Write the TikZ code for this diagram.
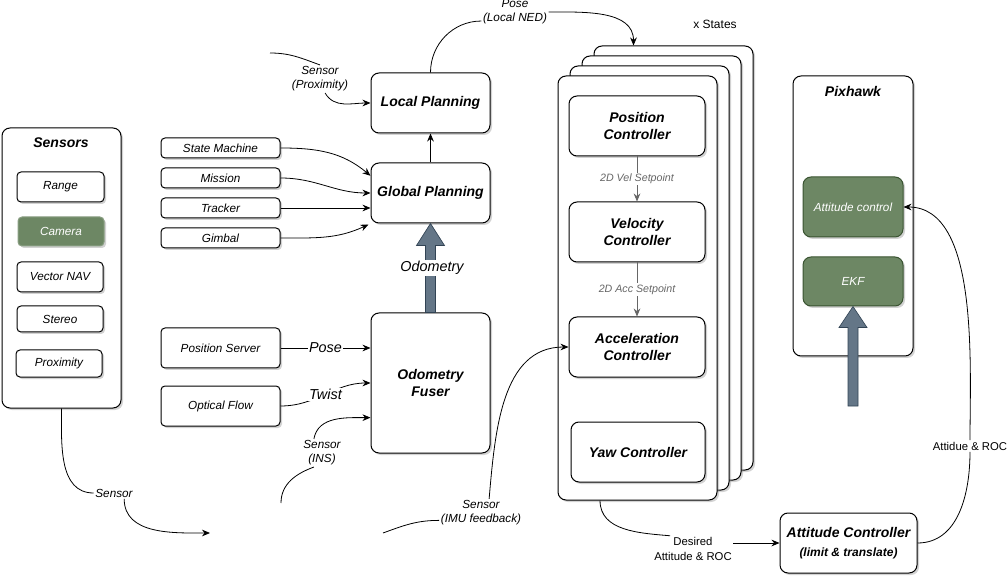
\documentclass[tikz,border=0pt]{standalone}
\usepackage{fontspec}
\setmainfont{Liberation Sans}
\usetikzlibrary{arrows.meta,shadows,calc}

\definecolor{boxgreen}{HTML}{6D8764}
\definecolor{greenline}{HTML}{3A5431}
\definecolor{fatblue}{HTML}{647687}
\definecolor{fatline}{HTML}{314354}

\begin{document}
\begin{tikzpicture}[x=0.75pt, y=-0.75pt, line width=0.6pt,
  >={Stealth[length=6pt,width=5pt]},
  wh/.style 2 args={minimum width=#1*0.75pt, minimum height=#2*0.75pt},
  box/.style={draw, fill=white, line width=0.75pt, rounded corners=3pt, align=center, inner sep=1pt,
    font=\itshape\fontsize{8.8}{10.5}\selectfont,
    drop shadow={shadow xshift=1.5pt, shadow yshift=-1.5pt, opacity=0.35}},
  bigbox/.style={box, rounded corners=6pt, font=\bfseries\itshape\fontsize{10.5}{13}\selectfont},
  greenbox/.style={box, fill=boxgreen, draw=greenline, text=white},
  panel/.style={box, rounded corners=6pt, wh={159}{424}},
  title/.style={font=\bfseries\itshape\fontsize{10.5}{13}\selectfont},
  lbl/.style={fill=white, inner sep=1pt, align=center, font=\itshape\fontsize{8.8}{10.5}\selectfont},
  biglbl/.style={lbl, font=\itshape\fontsize{10.8}{13}\selectfont},
  setlbl/.style={lbl, font=\itshape\fontsize{8}{9.5}\selectfont},
  fatarrow/.style={fill=fatblue, draw=fatline, line width=0.5pt},
]
\useasboundingbox (0,0) rectangle (1007,577);

% sensors
\node[box, rounded corners=6pt, wh={119}{280}] (sensors) at (61.5,268) {};
\node[title] (senstitle) at (61,143) {Sensors};
\node[box, wh={87}{30}] (range) at (60.5,187) {Range};
\node[greenbox, draw=boxgreen!80!white, wh={86}{29}] (camera) at (61,231.5) {Camera};
\node[box, wh={86}{30}] (vnav) at (60,277) {Vector NAV};
\node[box, wh={86}{26}] (stereo) at (60,319) {Stereo};
\node[box, wh={86}{27}] (proxim) at (59,363.5) {Proximity};

% planning inputs
\node[box, wh={119}{20}] (statem) at (220.5,148) {State Machine};
\node[box, wh={119}{20}] (mission) at (220.5,178) {Mission};
\node[box, wh={119}{20}] (tracker) at (220.5,208) {Tracker};
\node[box, wh={119}{20}] (gimbal) at (220.5,238) {Gimbal};
\node[box, wh={119}{40}] (possrv) at (220.5,348) {Position Server};
\node[box, wh={119}{40}] (optflow) at (220.5,406) {Optical Flow};

% planning
\node[bigbox, wh={119}{60}] (local) at (430.5,103) {Local Planning};
\node[bigbox, wh={119}{60}] (global) at (430.5,193) {Global Planning};
\node[bigbox, wh={119}{140}] (odom) at (430.5,383) {Odometry\\Fuser};

% controller stack
\node[panel] (stackd) at (673.5,258) {};
\node[panel] (stackc) at (661.5,268) {};
\node[panel] (stackb) at (649.5,278) {};
\node[panel] (stack) at (637.5,288) {};
\node[font=\fontsize{9}{11}\selectfont] (xstates) at (715,24) {x States};
\node[bigbox, wh={136}{60}] (posctl) at (637,126) {Position\\Controller};
\node[bigbox, wh={136}{60}] (velctl) at (637,232) {Velocity\\Controller};
\node[bigbox, wh={136}{60}] (accctl) at (637,347) {Acceleration\\Controller};
\node[bigbox, wh={134}{60}] (yawctl) at (638,452) {Yaw Controller};

% pixhawk
\node[box, rounded corners=6pt, wh={120}{280}] (pixhawk) at (853,216) {};
\node[title] (pixtitle) at (853,91) {Pixhawk};
\node[greenbox, rounded corners=6pt, wh={100}{60}] (attcontrol) at (853,207) {Attitude control};
\node[greenbox, rounded corners=6pt, wh={100}{49}] (ekf) at (853,281.5) {EKF};
\node[bigbox, wh={137}{60}] (attctl) at (848.5,543)
  {Attitude Controller\\[1pt]{\fontsize{9}{10}\selectfont(limit \& translate)}};

% labels of the curved links
\node[lbl] (poselbl) at (515,12) {Pose\\(Local NED)};
\node[lbl] (proxlbl) at (320,79) {Sensor\\(Proximity)};
\node[lbl] (inslbl) at (322,453) {Sensor\\(INS)};
\node[lbl] (senslbl) at (114,493) {Sensor};
\node[lbl] (imulbl) at (481,513) {Sensor\\(IMU feedback)};
\node[lbl, font=\fontsize{8.5}{11}\selectfont] (deslbl) at (693,549) {Desired\\Attitude \& ROC};
\node[lbl, font=\fontsize{8.5}{10}\selectfont] (attlbl) at (970,446) {Attidue \& ROC};
\coordinate (proxin) at (270,53);
\coordinate (insin) at (281,503);
\coordinate (sensout) at (210,533);
\coordinate (imuin) at (383,533);
\coordinate (ekfin) at (853,406);

% fat arrows
\filldraw[fatarrow] ($(odom.north)+(-5,0)$) -- ($(global.south)+(-5,22)$) -- ($(global.south)+(-14,22)$)
  -- (global.south) -- ($(global.south)+(14,22)$) -- ($(global.south)+(5,22)$) -- ($(odom.north)+(5,0)$) -- cycle;
\node[biglbl] (odomlbl) at (432,268) {Odometry};
\filldraw[fatarrow] ($(ekfin)+(-5,0)$) -- ($(ekf.south)+(-5,21)$) -- ($(ekf.south)+(-14,21)$)
  -- (ekf.south) -- ($(ekf.south)+(14,21)$) -- ($(ekf.south)+(5,21)$) -- ($(ekfin)+(5,0)$) -- cycle;

% links
\draw (local.north) to[out=90,in=180] (poselbl.195);
\draw[->] (poselbl.east) to[out=0,in=90] ($(stackd.north west)+(40,0)$);
\draw (proxin) to[out=0,in=160] (proxlbl.north);
\draw[->] (proxlbl.-70) to[out=-60,in=180] (local.west);
\draw[->] (global) -- (local);
\draw[->] (statem.east) to[out=0,in=140] (global.164);
\draw[->] (mission.east) to[out=0,in=180] (global.west);
\draw[->] (tracker.east) -- (tracker.east -| global.west);
\draw[->] (gimbal.east) to[out=0,in=205] ($(global.south west)+(-2,1)$);
\draw[->] (possrv.east) -- node[biglbl] {Pose} (possrv.east -| odom.west);
\draw[->] (optflow.east) to[out=0,in=180] node[biglbl] {Twist} (odom.west);
\draw (insin) to[out=90,in=200] (inslbl.-120);
\draw[->] (inslbl.120) to[out=80,in=180] (odom.210);
\draw (sensors.south) to[out=-90,in=180] (senslbl.west);
\draw[->] (senslbl.-30) to[out=-90,in=180] (sensout);
\draw (imuin) to[out=20,in=180] (imulbl.190);
\draw[->] (imulbl.60) to[out=85,in=180] (accctl.west);
\draw[->, black!60] (posctl) -- node[setlbl] {2D Vel Setpoint} (velctl);
\draw[->, black!60] (velctl) -- node[setlbl] {2D Acc Setpoint} (accctl);
\draw (stack.-100.5) to[out=-90,in=175] (deslbl.150);
\draw[->] (deslbl.east |- attctl.west) -- (attctl.west);
\draw (attctl.east) to[out=0,in=-90] (attlbl.south);
\draw[->] (attlbl.north) to[out=90,in=0,looseness=0.8] (attcontrol.east);
\end{tikzpicture}
\end{document}
